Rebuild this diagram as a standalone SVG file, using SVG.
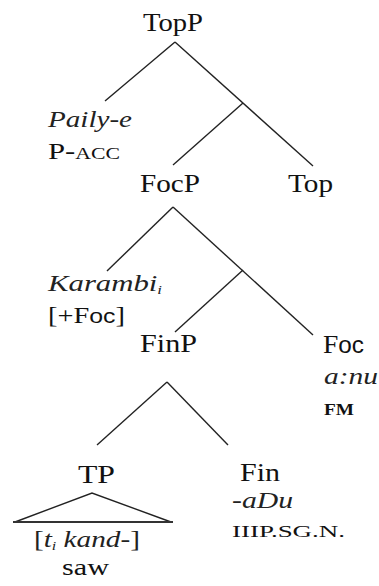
<svg xmlns="http://www.w3.org/2000/svg" width="379" height="586" viewBox="0 0 379 586">
<style>
.lbl{font-family:"Liberation Serif","Times New Roman",serif;font-size:26px;fill:#111}
.it{font-family:"Liberation Serif","Times New Roman",serif;font-style:italic;font-size:24px;fill:#222}
.sc{font-family:"Liberation Serif","Times New Roman",serif;font-size:16px;fill:#111}
.br{font-family:"Liberation Serif","Times New Roman",serif;font-size:24px;fill:#111}
.sans{font-family:"Liberation Sans",Arial,sans-serif}
.edge{stroke:#222;stroke-width:1.4;fill:none}
</style>
<rect width="379" height="586" fill="#fff"/>
<g id="connectors">
<line class="edge" x1="175" y1="42" x2="105" y2="101"/>
<line class="edge" x1="175" y1="42" x2="313" y2="166"/>
<line class="edge" x1="243" y1="103" x2="173" y2="165"/>
<line class="edge" x1="173" y1="207" x2="107" y2="271"/>
<line class="edge" x1="173" y1="207" x2="313" y2="335"/>
<line class="edge" x1="243" y1="270" x2="175" y2="332"/>
<line class="edge" x1="167" y1="382" x2="97" y2="445"/>
<line class="edge" x1="167" y1="382" x2="228" y2="445"/>
</g>
<g id="TopP"><text class="lbl" x="143" y="31" textLength="60" lengthAdjust="spacingAndGlyphs">TopP</text></g>
<g id="Paily-e">
<text class="it" x="48" y="127" textLength="84" lengthAdjust="spacingAndGlyphs">Paily-e</text>
<text class="br" x="48" y="159" textLength="72" lengthAdjust="spacingAndGlyphs">P-<tspan font-size="17">ACC</tspan></text>
</g>
<g id="FocP"><text class="lbl" x="140" y="192" textLength="60" lengthAdjust="spacingAndGlyphs">FocP</text></g>
<g id="Top"><text class="lbl" x="288" y="192" textLength="45" lengthAdjust="spacingAndGlyphs">Top</text></g>
<g id="Karambi">
<text class="it" x="48" y="291" textLength="114" lengthAdjust="spacingAndGlyphs">Karambi<tspan font-size="13" dy="3">i</tspan></text>
<text class="br" x="48" y="323" textLength="77" lengthAdjust="spacingAndGlyphs">[+F<tspan class="sans" font-size="21">oc</tspan>]</text>
</g>
<g id="FinP"><text class="lbl" x="140" y="352" textLength="57" lengthAdjust="spacingAndGlyphs">FinP</text></g>
<g id="Foc">
<text class="lbl" x="323" y="353" textLength="41" lengthAdjust="spacingAndGlyphs">F<tspan class="sans" font-size="23">oc</tspan></text>
<text class="it" x="324" y="384" textLength="54" lengthAdjust="spacingAndGlyphs">a:nu</text>
<text class="sc" x="324" y="415" font-weight="bold" textLength="30" lengthAdjust="spacingAndGlyphs">FM</text>
</g>
<g id="TP">
<text class="lbl" x="78" y="483" textLength="37" lengthAdjust="spacingAndGlyphs">TP</text>
<polyline class="edge" points="15,522 92,493 171,522"/>
<line x1="13" y1="522" x2="173" y2="522" stroke="#333" stroke-width="2"/>
<text class="it" x="34" y="547" textLength="106" lengthAdjust="spacingAndGlyphs"><tspan font-style="normal">[</tspan>t<tspan font-size="13" dy="3">i</tspan><tspan dy="-3"> kand-</tspan><tspan font-style="normal">]</tspan></text>
<text class="br" x="62" y="575" font-size="22" textLength="47" lengthAdjust="spacingAndGlyphs">saw</text>
</g>
<g id="Fin">
<text class="lbl" x="240" y="481" textLength="40" lengthAdjust="spacingAndGlyphs">Fin</text>
<text class="it" x="232" y="508" textLength="61" lengthAdjust="spacingAndGlyphs">-aDu</text>
<text class="sc" x="232" y="537" textLength="113" lengthAdjust="spacingAndGlyphs">IIIP.SG.N.</text>
</g>
</svg>
